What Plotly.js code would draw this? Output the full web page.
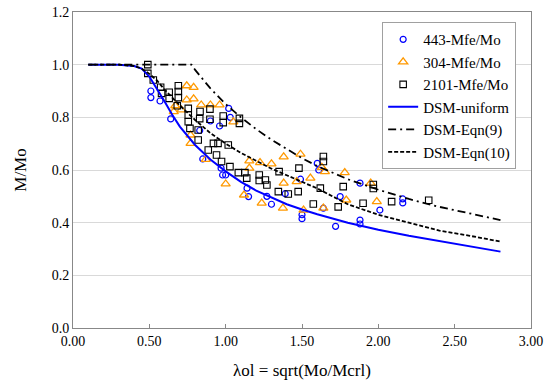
<!DOCTYPE html>
<html><head><meta charset="utf-8">
<script src="https://cdn.plot.ly/plotly-3.0.1.min.js"></script>
<style>html,body{margin:0;padding:0;background:#fff}#chart{width:550px;height:385px}</style>
</head><body><div id="chart"></div>
<script>
// Test series
const x443 = [0.51,0.51,0.57,0.64,0.83,0.85,0.90,0.96,1.02,1.03,0.97,0.98,1.00,1.14,1.15,1.27,1.30,1.39,1.49,1.50,1.50,1.60,1.61,1.64,1.72,1.75,1.88,1.88,1.88,2.01,2.16,2.16];
const y443 = [0.90,0.875,0.862,0.794,0.75,0.642,0.786,0.767,0.834,0.80,0.607,0.581,0.581,0.531,0.499,0.50,0.47,0.51,0.565,0.43,0.415,0.625,0.60,0.455,0.386,0.499,0.55,0.41,0.395,0.448,0.49,0.475];

const x304 = [0.66,0.67,0.71,0.745,0.745,0.77,0.77,0.79,0.79,0.84,0.87,0.90,0.96,1.00,1.05,1.12,1.155,1.155,1.225,1.236,1.30,1.375,1.38,1.38,1.465,1.49,1.51,1.555,1.63,1.64,1.65,1.78,1.79,1.95,1.99];
const y304 = [0.822,0.844,0.828,0.92,0.866,0.733,0.701,0.914,0.87,0.847,0.64,0.847,0.847,0.547,0.783,0.505,0.635,0.607,0.628,0.474,0.623,0.455,0.65,0.55,0.556,0.66,0.448,0.569,0.61,0.455,0.594,0.59,0.486,0.55,0.48];

const x2101 = [0.49,0.49,0.526,0.574,0.58,0.63,0.63,0.69,0.69,0.69,0.683,0.755,0.755,0.755,0.766,0.82,0.82,0.832,0.83,0.897,0.897,0.984,0.984,1.09,1.09,0.92,0.95,1.017,0.886,0.94,0.973,1.028,1.083,1.126,1.138,1.22,1.22,1.26,1.27,1.35,1.345,1.41,1.475,1.48,1.62,1.64,1.64,1.574,1.737,1.77,1.90,1.967,1.967,2.087,2.33];
const y2101 = [1.0,0.967,0.942,0.914,0.891,0.895,0.872,0.92,0.898,0.875,0.844,0.834,0.809,0.783,0.758,0.752,0.714,0.822,0.795,0.831,0.793,0.805,0.78,0.796,0.777,0.701,0.701,0.695,0.676,0.657,0.632,0.613,0.59,0.59,0.569,0.581,0.56,0.562,0.543,0.594,0.518,0.509,0.518,0.607,0.531,0.651,0.632,0.471,0.46,0.537,0.474,0.545,0.53,0.48,0.485];

// Design curves
const xUni = [0.1,0.2,0.3,0.4,0.45,0.5,0.55,0.6,0.65,0.7,0.8,0.9,1.0,1.1,1.2,1.3,1.4,1.5,1.6,1.8,2.0,2.2,2.4,2.6,2.8];
const yUni = [1.0,1.0,1.0,0.995,0.985,0.955,0.91,0.86,0.81,0.765,0.695,0.64,0.595,0.555,0.522,0.495,0.47,0.45,0.432,0.40,0.373,0.35,0.33,0.31,0.29];

const xEq9 = [0.1,0.3,0.5,0.7,0.776,0.8,0.85,0.9,1.0,1.1,1.2,1.3,1.4,1.5,1.6,1.8,2.0,2.2,2.4,2.6,2.8];
const yEq9 = [1.0,1.0,1.0,1.0,1.0,0.98,0.944,0.91,0.85,0.80,0.755,0.715,0.68,0.645,0.615,0.565,0.525,0.49,0.46,0.435,0.41];

const xEq10 = [0.1,0.3,0.4,0.45,0.5,0.55,0.6,0.7,0.8,0.9,1.0,1.1,1.2,1.3,1.4,1.5,1.6,1.8,2.0,2.2,2.4,2.6,2.8];
const yEq10 = [1.0,1.0,0.995,0.985,0.965,0.94,0.905,0.845,0.79,0.74,0.70,0.665,0.635,0.605,0.58,0.555,0.53,0.47,0.43,0.40,0.37,0.35,0.328];

const FONT = '"Liberation Serif", "Times New Roman", serif';

const traces = [
  {x:x443, y:y443, mode:'markers', type:'scatter', name:'443-Mfe/Mo',
   marker:{symbol:'circle-open', size:6, color:'#0000ff', line:{width:1.2}}},
  {x:x304, y:y304, mode:'markers', type:'scatter', name:'304-Mfe/Mo',
   marker:{symbol:'triangle-up-open', size:8, color:'#ff9900', line:{width:1.3}}},
  {x:x2101, y:y2101, mode:'markers', type:'scatter', name:'2101-Mfe/Mo',
   marker:{symbol:'square-open', size:6.5, color:'#000000', line:{width:1.1}}},
  {x:xUni, y:yUni, mode:'lines', type:'scatter', name:'DSM-uniform',
   line:{color:'#0000ff', width:2}},
  {x:xEq9, y:yEq9, mode:'lines', type:'scatter', name:'DSM-Eqn(9)',
   line:{color:'#000000', width:1.8, dash:'8px,4px,2px,4px'}},
  {x:xEq10, y:yEq10, mode:'lines', type:'scatter', name:'DSM-Eqn(10)',
   line:{color:'#000000', width:1.8, dash:'4px,2px'}}
];

const layout = {
  width:550, height:385,
  margin:{l:73, r:19, t:12, b:57},
  paper_bgcolor:'#ffffff', plot_bgcolor:'#ffffff',
  font:{family:FONT, size:13, color:'#000'},
  showlegend:true,
  legend:{x:0.675, y:0.968, xanchor:'left', yanchor:'top',
    bgcolor:'#ffffff', bordercolor:'#a0a0a0', borderwidth:1,
    font:{family:FONT, size:15, color:'#000'}},
  xaxis:{range:[0,3], dtick:0.5, tick0:0, tickformat:'.2f',
    showgrid:false, zeroline:false, showline:true, linecolor:'#888', linewidth:1, mirror:true,
    ticks:'inside', ticklen:4, tickcolor:'#888',
    tickfont:{family:FONT, size:14},
    title:{text:'λol = sqrt(Mo/Mcrl)', font:{family:FONT, size:17}, standoff:16}},
  yaxis:{range:[0,1.2], dtick:0.2, tick0:0, tickformat:'.1f',
    showgrid:true, gridcolor:'#d9d9d9', gridwidth:1, zeroline:false,
    showline:true, linecolor:'#888', linewidth:1, mirror:true, ticks:'',
    tickfont:{family:FONT, size:14},
    title:{text:'M/Mo', font:{family:FONT, size:17}, standoff:20}}
};

Plotly.newPlot('chart', traces, layout, {displayModeBar:false, staticPlot:true});
</script>
</body></html>
